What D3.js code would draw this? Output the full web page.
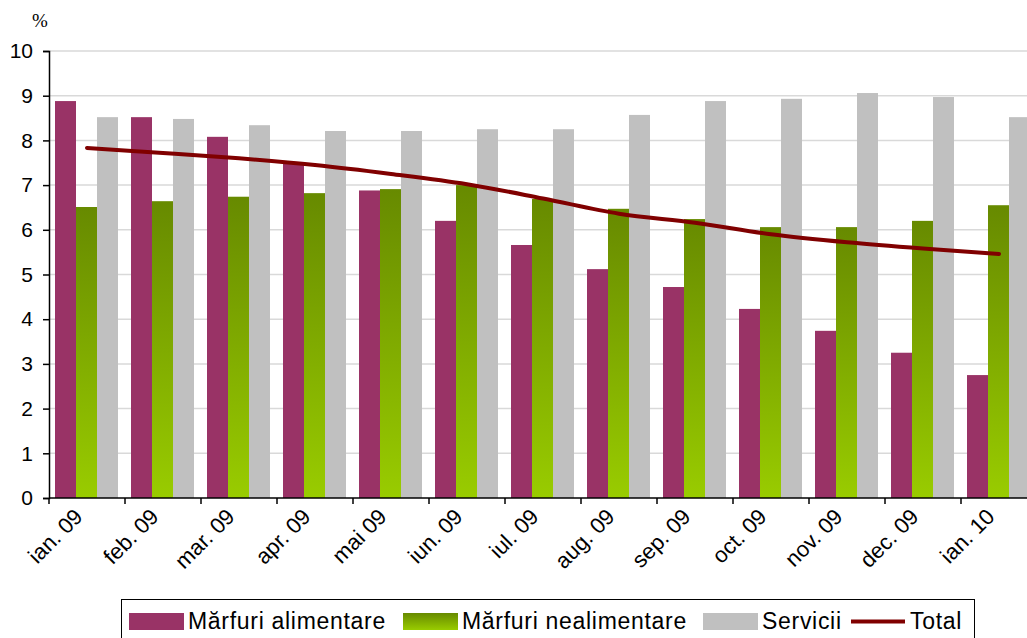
<!DOCTYPE html>
<html lang="ro">
<head>
<meta charset="UTF-8">
<title>Inflatie pe componente</title>
<style>
  body { margin: 0; background: #fff; }
  svg { display: block; font-family: "Liberation Sans", Arial, sans-serif; }
  .grid line { stroke: #d9d9d9; stroke-width: 1.5; }
</style>
<script src="https://cdn.jsdelivr.net/npm/d3@7/dist/d3.min.js"></script>
</head>
<body>
<script>
// Date
var luni = ["ian. 09", "feb. 09", "mar. 09", "apr. 09", "mai 09", "iun. 09", "iul. 09",
            "aug. 09", "sep. 09", "oct. 09", "nov. 09", "dec. 09", "ian. 10"];
var alimentare   = [8.88, 8.52, 8.08, 7.49, 6.88, 6.20, 5.66, 5.12, 4.72, 4.23, 3.74, 3.25, 2.75];
var nealimentare = [6.51, 6.64, 6.74, 6.82, 6.91, 7.00, 6.69, 6.47, 6.24, 6.06, 6.06, 6.20, 6.55];
var servicii     = [8.52, 8.48, 8.34, 8.21, 8.21, 8.25, 8.25, 8.57, 8.88, 8.93, 9.06, 8.97, 8.52];
var total        = [7.83, 7.72, 7.60, 7.45, 7.25, 7.02, 6.70, 6.36, 6.16, 5.90, 5.72, 5.58, 5.46];
var serii = ["Mărfuri alimentare", "Mărfuri nealimentare", "Servicii"];
var yTicks = [0, 1, 2, 3, 4, 5, 6, 7, 8, 9, 10];

var latime = 1027, inaltime = 638;

var svg = d3.select("body").append("svg")
    .attr("width", latime)
    .attr("height", inaltime);

// gradient pentru marfuri nealimentare
var defs = svg.append("defs");
var grad = defs.append("linearGradient")
    .attr("id", "verde")
    .attr("x1", 0).attr("y1", 0).attr("x2", 0).attr("y2", 1);
grad.append("stop").attr("offset", "0%").attr("stop-color", "#678a00");
grad.append("stop").attr("offset", "100%").attr("stop-color", "#99cc00");

var culori = ["#993366", "url(#verde)", "#c0c0c0"];

// scale
var x = d3.scaleBand().domain(luni).range([49, 1037]);
var xs = d3.scaleBand().domain(serii).range([6, 69]);
var y = d3.scaleLinear().domain([0, 10]).range([498, 51]);

// linii de grila
svg.append("g").attr("class", "grid")
  .selectAll("line")
  .data(yTicks.filter(function(d) { return d > 0; }))
  .enter().append("line")
    .attr("x1", 49).attr("x2", latime)
    .attr("y1", function(d) { return y(d); })
    .attr("y2", function(d) { return y(d); });

// bare
var valori = [alimentare, nealimentare, servicii];
var grupuri = svg.append("g")
  .selectAll("g")
  .data(luni)
  .enter().append("g")
    .attr("transform", function(d) { return "translate(" + x(d) + ",0)"; });

grupuri.selectAll("rect")
  .data(function(d, i) {
    return serii.map(function(s, j) { return { serie: s, v: valori[j][i], j: j }; });
  })
  .enter().append("rect")
    .attr("x", function(d) { return xs(d.serie); })
    .attr("width", xs.bandwidth())
    .attr("y", function(d) { return y(d.v); })
    .attr("height", function(d) { return y(0) - y(d.v); })
    .attr("fill", function(d) { return culori[d.j]; });

// linia Total
var linie = d3.line()
    .x(function(d, i) { return x(luni[i]) + x.bandwidth() / 2; })
    .y(function(d) { return y(d); })
    .curve(d3.curveCatmullRom);

svg.append("path")
    .datum(total)
    .attr("d", linie)
    .attr("fill", "none")
    .attr("stroke", "#800000")
    .attr("stroke-width", 4)
    .attr("stroke-linecap", "round");

// axa Y
var axaY = svg.append("g")
    .attr("transform", "translate(49,0)")
    .call(d3.axisLeft(y).tickValues(yTicks).tickSize(6).tickPadding(10).tickFormat(d3.format("d")));
axaY.select(".domain").attr("stroke", "#000").attr("stroke-width", 1.5);
axaY.selectAll(".tick line").attr("stroke", "#000").attr("stroke-width", 1.5);
axaY.selectAll("text")
    .attr("font-size", 21)
    .attr("font-family", "Liberation Sans, Arial, sans-serif")
    .attr("fill", "#000");

// axa X
var axaX = svg.append("g").attr("transform", "translate(0," + y(0) + ")");
axaX.append("line")
    .attr("x1", 49).attr("x2", latime)
    .attr("stroke", "#000").attr("stroke-width", 1.5);
axaX.selectAll(".bif")
  .data(luni)
  .enter().append("line")
    .attr("class", "bif")
    .attr("x1", function(d) { return x(d); })
    .attr("x2", function(d) { return x(d); })
    .attr("y1", 0).attr("y2", 6)
    .attr("stroke", "#000").attr("stroke-width", 1.5);
axaX.selectAll("text")
  .data(luni)
  .enter().append("text")
    .attr("transform", function(d) {
      return "translate(" + (x(d) + x.bandwidth() / 2 - 3) + ",20) rotate(-45)";
    })
    .attr("text-anchor", "end")
    .attr("font-size", 22)
    .text(function(d) { return d; });

// simbol procent
svg.append("text")
    .attr("x", 40).attr("y", 27)
    .attr("text-anchor", "middle")
    .attr("font-family", "Liberation Serif, Times New Roman, serif")
    .attr("font-size", 19)
    .text("%");

// legenda
var leg = svg.append("g");
leg.append("rect")
    .attr("x", 121.5).attr("y", 599.5)
    .attr("width", 853).attr("height", 45)
    .attr("fill", "#fff").attr("stroke", "#000").attr("stroke-width", 1);

var itemeLeg = [
  { nume: serii[0], tip: "bara", culoare: culori[0], x: 129 },
  { nume: serii[1], tip: "bara", culoare: culori[1], x: 403 },
  { nume: serii[2], tip: "bara", culoare: culori[2], x: 703 },
  { nume: "Total", tip: "linie", culoare: "#800000", x: 851 }
];
var it = leg.selectAll(".item").data(itemeLeg).enter().append("g")
    .attr("class", "item")
    .attr("transform", function(d) { return "translate(" + d.x + ",0)"; });
it.filter(function(d) { return d.tip === "bara"; })
  .append("rect")
    .attr("x", 0).attr("y", 613).attr("width", 55).attr("height", 17)
    .attr("fill", function(d) { return d.culoare; });
it.filter(function(d) { return d.tip === "linie"; })
  .append("line")
    .attr("x1", 0).attr("x2", 54).attr("y1", 621.5).attr("y2", 621.5)
    .attr("stroke", function(d) { return d.culoare; })
    .attr("stroke-width", 4);
it.append("text")
    .attr("x", 59).attr("y", 629)
    .attr("font-size", 23)
    .attr("letter-spacing", 0.7)
    .text(function(d) { return d.nume; });
</script>
</body>
</html>
